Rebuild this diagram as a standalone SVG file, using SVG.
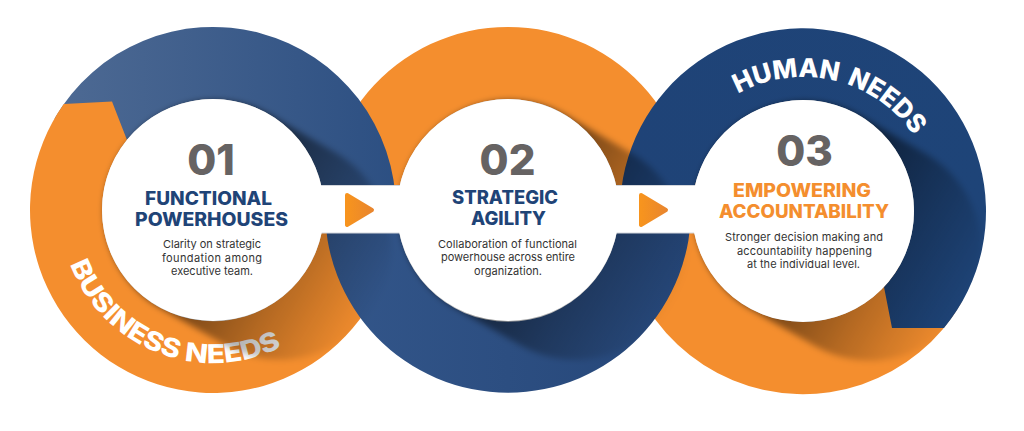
<svg xmlns="http://www.w3.org/2000/svg" width="1024" height="431" viewBox="0 0 1024 431">
<defs>
<style>
.org{fill:#f48e2e}
.num{font-family:Inter,"Liberation Sans",sans-serif;font-weight:800;font-size:42px;fill:#666363;text-anchor:middle}
.ttl{font-family:Inter,"Liberation Sans",sans-serif;font-weight:800;font-size:18.5px;fill:#1f4477;text-anchor:middle}
.ttlo{fill:#f48e2e}
.body{font-family:Inter,"Liberation Sans",sans-serif;font-weight:400;font-size:11px;fill:#333333;text-anchor:middle}
.lbl{font-family:Inter,"Liberation Sans",sans-serif;font-weight:800;font-size:26px;fill:#ffffff}
.wc{fill:#ffffff}
.tri{stroke-linejoin:round;stroke-width:4}
</style>
<linearGradient id="b1" gradientUnits="userSpaceOnUse" x1="40" y1="0" x2="400" y2="0">
<stop offset="0" stop-color="#4f6b94"/><stop offset="1" stop-color="#2c4f82"/>
</linearGradient>
<linearGradient id="b2" gradientUnits="userSpaceOnUse" x1="325" y1="0" x2="690" y2="0">
<stop offset="0" stop-color="#33568a"/><stop offset="1" stop-color="#254678"/>
</linearGradient>
<linearGradient id="b3" gradientUnits="userSpaceOnUse" x1="620" y1="0" x2="990" y2="0">
<stop offset="0" stop-color="#1f4377"/><stop offset="1" stop-color="#1e4478"/>
</linearGradient>
<linearGradient id="sh" gradientUnits="userSpaceOnUse" x1="0" y1="0" x2="165.4" y2="95.5">
<stop offset="0" stop-color="#000" stop-opacity="0.58"/>
<stop offset="0.5" stop-color="#000" stop-opacity="0.27"/>
<stop offset="1" stop-color="#000" stop-opacity="0"/>
</linearGradient>
<linearGradient id="tg" x1="0" y1="0" x2="1" y2="0">
<stop offset="0" stop-color="#f7941e"/><stop offset="1" stop-color="#e9862e"/>
</linearGradient>
<clipPath id="rings">
<circle cx="213" cy="210" r="183"/><circle cx="508" cy="210" r="183"/><circle cx="803" cy="211" r="183"/>
</clipPath>
<filter id="soft" x="-20%" y="-20%" width="140%" height="140%"><feGaussianBlur stdDeviation="3"/></filter>
<path id="shp" d="M 55.5 -96.1 L 124.8 -56.1 A 111 111 0 0 1 13.8 136.1 L -55.5 96.1 A 111 111 0 0 1 55.5 -96.1 Z" fill="url(#sh)"/>
<path id="arcB" d="M 66.7 254.7 A 153 153 0 0 0 300.8 335.3"/>
<path id="arcH" d="M 726.1 101.2 A 134 134 0 0 1 928.9 165.2"/>
</defs>

<g id="rings-art">
<path id="ring3-orange" class="org" d="M 961.5 302.5 A 183 183 0 0 1 626.2 163.6 L 695.8 182.3 A 111 111 0 0 0 899.1 266.5 Z"/>
<path id="ring2-orange" class="org" d="M 327.8 241.8 A 183 183 0 1 1 688.2 241.8 L 617.3 229.3 A 111 111 0 1 0 398.7 229.3 Z"/>
<path id="ring1-blue" fill="url(#b1)" d="M 54.5 118.5 A 183 183 0 0 1 396 210 L 324 210 A 111 111 0 0 0 116.9 154.5 Z"/>
<path id="ring1-orange" class="org" d="M 63.8 104 L 112 101.5 L 127 140 A 111 111 0 1 0 324 210 L 396 210 A 183 183 0 1 1 63.8 104 Z"/>
<path id="ring3-blue" fill="url(#b3)" d="M 692 211 A 111 111 0 1 1 884 287 L 892 328 L 944 328 A 183 183 0 1 0 620 211 Z"/>
<path id="ring2-blue" fill="url(#b2)" d="M 690.9 203.6 A 183 183 0 1 1 325.1 203.6 L 397.1 206.1 A 111 111 0 1 0 618.9 206.1 Z"/>
</g>

<g id="label-business">
<text class="lbl"><textPath href="#arcB" startOffset="10" textLength="256" lengthAdjust="spacingAndGlyphs">BUSINESS NEEDS</textPath></text>
</g>

<g id="shadows" clip-path="url(#rings)">
<g filter="url(#soft)">
<use href="#shp" transform="translate(213 210)"/>
<use href="#shp" transform="translate(508 210)"/>
<use href="#shp" transform="translate(803 211)"/>
</g>
</g>

<g id="label-human">
<text class="lbl"><textPath href="#arcH" startOffset="14" textLength="103" lengthAdjust="spacingAndGlyphs">HUMAN</textPath></text>
<text class="lbl"><textPath href="#arcH" startOffset="126" textLength="86" lengthAdjust="spacingAndGlyphs">NEEDS</textPath></text>
</g>

<g id="connectors">
<rect x="213" y="185.5" width="590" height="47.5" fill="#ffffff" stroke="#d3d6dc" stroke-width="1"/>
<path class="tri" fill="url(#tg)" stroke="url(#tg)" d="M 347 195 L 372 210 L 347 225 Z"/>
<path class="tri" fill="url(#tg)" stroke="url(#tg)" d="M 641 195 L 666 210 L 641 225 Z"/>
</g>

<g id="node-01">
<circle class="wc" cx="213" cy="210" r="111"/>
<text class="num" x="211" y="175">01</text>
<text class="ttl" x="208.5" y="205" textLength="127" lengthAdjust="spacingAndGlyphs">FUNCTIONAL</text>
<text class="ttl" x="211.5" y="225.5" textLength="153" lengthAdjust="spacingAndGlyphs">POWERHOUSES</text>
<text class="body" x="212" y="248" textLength="98">Clarity on strategic</text>
<text class="body" x="212" y="261.5" textLength="100">foundation among</text>
<text class="body" x="212" y="275" textLength="82">executive team.</text>
</g>

<g id="node-02">
<circle class="wc" cx="508" cy="210" r="111"/>
<text class="num" x="507.5" y="175">02</text>
<text class="ttl" x="505" y="203.5" textLength="106" lengthAdjust="spacingAndGlyphs">STRATEGIC</text>
<text class="ttl" x="508.5" y="225" textLength="75" lengthAdjust="spacingAndGlyphs">AGILITY</text>
<text class="body" x="507.5" y="247.5" textLength="139">Collaboration of functional</text>
<text class="body" x="508" y="261" textLength="134">powerhouse across entire</text>
<text class="body" x="508" y="274.5" textLength="68">organization.</text>
</g>

<g id="node-03">
<circle class="wc" cx="803" cy="211" r="111"/>
<text class="num" x="804.5" y="166">03</text>
<text class="ttl ttlo" x="802" y="197" textLength="138" lengthAdjust="spacingAndGlyphs">EMPOWERING</text>
<text class="ttl ttlo" x="804" y="217.5" textLength="170" lengthAdjust="spacingAndGlyphs">ACCOUNTABILITY</text>
<text class="body" x="804" y="241" textLength="158">Stronger decision making and</text>
<text class="body" x="804.5" y="254.5" textLength="135">accountability happening</text>
<text class="body" x="803.5" y="268" textLength="113">at the individual level.</text>
</g>
</svg>
